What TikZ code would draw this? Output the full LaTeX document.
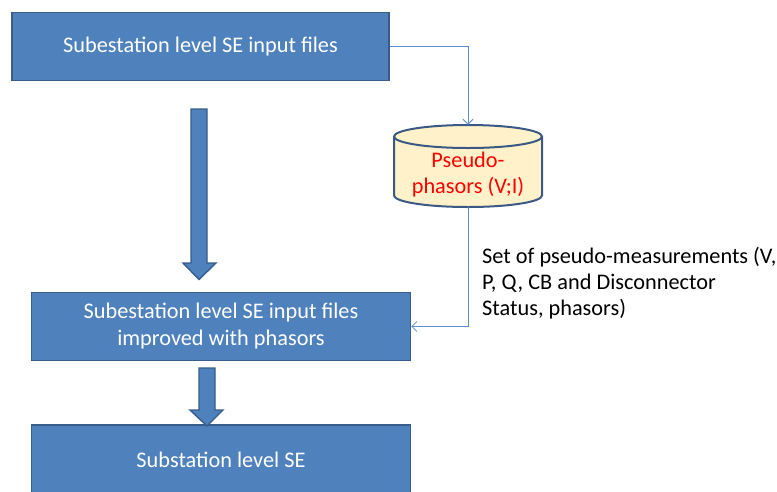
\documentclass[tikz,border=0pt]{standalone}
\usepackage{fontspec}
\setmainfont{Carlito}
\usetikzlibrary{arrows.meta}
\definecolor{boxfill}{HTML}{4F81BD}
\definecolor{boxline}{HTML}{385D8A}
\definecolor{cylfill}{HTML}{FFF2CA}
\definecolor{cylline}{HTML}{3A5A85}
\definecolor{connline}{HTML}{5B8BD0}
\tikzset{
  bluebox/.style={draw=boxline, line width=1.6pt, fill=boxfill, text=white,
    align=center, inner sep=0pt, font=\fontsize{22.3}{27}\selectfont},
  blockarrow/.style={draw=boxline, line width=1.4pt, fill=boxfill, line join=miter},
  conn/.style={draw=connline, line width=0.8pt, -{Straight Barb[length=5pt,width=10pt]}},
}
\begin{document}
\begin{tikzpicture}[x=1pt,y=-1pt]
\useasboundingbox (0,0) rectangle (777,491);
\clip (0,0) rectangle (777,491);
% boxes
\node[bluebox, minimum width=377pt, minimum height=68pt] (b1) at (200.5,46.5) {Subestation level SE input files};
\node[bluebox, minimum width=379pt, minimum height=68pt] (b2) at (221,326.5) {Subestation level SE input files\\improved with phasors};
\node[bluebox, minimum width=379pt, minimum height=76pt] (b3) at (221,463) {};
\node[text=white, font=\fontsize{22.3}{27}\selectfont] (b3t) at (221,460) {Substation level SE};
% block arrows
\draw[blockarrow] (191,109) -- (207,109) -- (207,263) -- (216,263) -- (199,279.5) -- (183,263) -- (191,263) -- cycle;
\draw[blockarrow] (199,368) -- (215,368) -- (215,410) -- (223,410) -- (207,426) -- (190,410) -- (199,410) -- cycle;
% cylinder
\draw[draw=cylline, line width=2pt, fill=cylfill]
  (394,136.5) -- (394,195.5) arc[start angle=180,end angle=360,x radius=74pt,y radius=11.5pt]
  -- (542,136.5) arc[start angle=0,end angle=180,x radius=74pt,y radius=11.5pt] -- cycle;
\draw[draw=cylline, line width=2pt]
  (394,136.5) arc[start angle=180,end angle=360,x radius=74pt,y radius=11.5pt];
\node[minimum width=148pt, minimum height=82pt, inner sep=0pt] (cyl) at (468,166) {};
\node[text=red, align=center, font=\fontsize{22.3}{26}\selectfont] (cylt) at (468,175) {Pseudo-\\phasors (V;I)};
% connectors
\draw[conn] (b1.east) -| (cyl.north);
\draw[conn] (cyl.south) |- (b2.east);
% label
\node[anchor=base west, align=left, inner sep=0pt, font=\fontsize{22.3}{26}\selectfont] (lbl) at (482,315)
  {Set of pseudo-measurements (V,\\P, Q, CB and Disconnector\\Status, phasors)};
\end{tikzpicture}
\end{document}
